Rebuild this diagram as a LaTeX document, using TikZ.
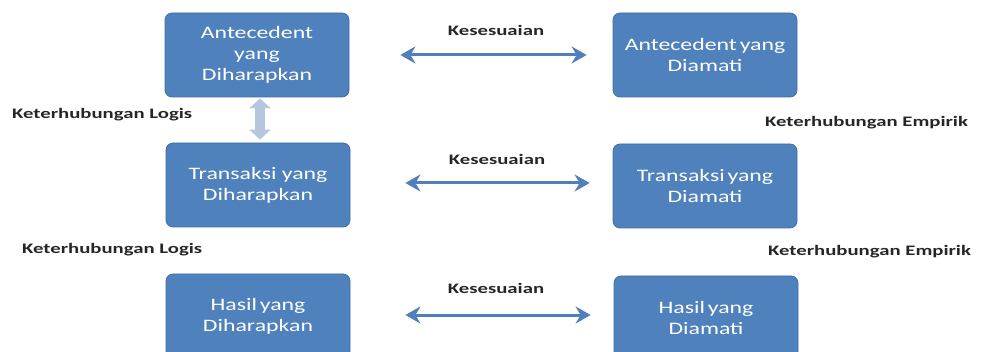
\documentclass[tikz,border=0pt]{standalone}
\usepackage{fontspec}
\newfontfamily\boxfont[FakeStretch=1.36]{Carlito}
\newfontfamily\labfont[FakeStretch=1.43]{Carlito}
\usetikzlibrary{arrows.meta}
\definecolor{boxfill}{HTML}{4F81BD}
\definecolor{boxline}{HTML}{3F6FA8}
\definecolor{harrowc}{HTML}{4F7FBC}
\definecolor{varrowc}{HTML}{B7C6DF}
\definecolor{labtext}{HTML}{262626}
\newcommand\tightsp{\hspace{-2.5pt} }
\tikzset{
  box/.style={draw=boxline, line width=0.8pt, fill=boxfill, rounded corners=7pt,
    minimum width=184pt, minimum height=84pt, inner sep=0pt, align=center,
    text=white, font=\boxfont\fontsize{17.5}{21}\selectfont},
  lab/.style={inner sep=0pt, text=labtext, font=\labfont\bfseries\fontsize{14.5}{17}\selectfont},
  harrow/.style={draw=harrowc, line width=3pt,
    {Stealth[length=15pt,width=17pt,inset=5pt]}-{Stealth[length=15pt,width=17pt,inset=5pt]}},
  varrow/.style={draw=varrowc, line width=10pt,
    {Triangle[length=10pt,width=21pt]}-{Triangle[length=10pt,width=21pt]}}
}
\begin{document}
\begin{tikzpicture}[x=1pt,y=-1pt]
\useasboundingbox (0,0) rectangle (981,352);
\clip (0,0) rectangle (981,352);
% boxes
\node[box] (ad) at (257,55) {Antecedent\\yang\\Diharapkan};
\node[box] (ao) at (705,55) {Antecedent\tightsp yang\\Diamati};
\node[box] (td) at (258,185) {Transaksi yang\\Diharapkan};
\node[box] (to) at (705,186) {Transaksi\tightsp yang\\Diamati};
\node[box] (hd) at (258,316) {Hasil\tightsp yang\\Diharapkan};
\node[box] (ho) at (706,318) {Hasil\tightsp yang\\Diamati};
% horizontal arrows
\draw[harrow, shorten <=51pt, shorten >=26pt] (ad) -- (ao);
\draw[harrow, shorten <=55pt, shorten >=23pt] (td.east |- 0,183) -- (to.west |- 0,183);
\draw[harrow, shorten <=55pt, shorten >=23pt] (hd.east |- 0,315) -- (ho.west |- 0,315);
% vertical arrow
\draw[varrow, shorten <=1pt, shorten >=3pt] (ad.south -| 260,0) -- (td.north -| 260,0);
% labels
\node[lab] (k1) at (496,30) {Kesesuaian};
\node[lab] (k2) at (497,159) {Kesesuaian};
\node[lab] (k3) at (496,288) {Kesesuaian};
\node[lab, anchor=west] (l1) at (12,115) {Keterhubungan Logis};
\node[lab, anchor=west] (l2) at (22,250) {Keterhubungan Logis};
\node[lab, anchor=west] (e1) at (765,123) {Keterhubungan Empirik};
\node[lab, anchor=west] (e2) at (768,252) {Keterhubungan Empirik};
\end{tikzpicture}
\end{document}
